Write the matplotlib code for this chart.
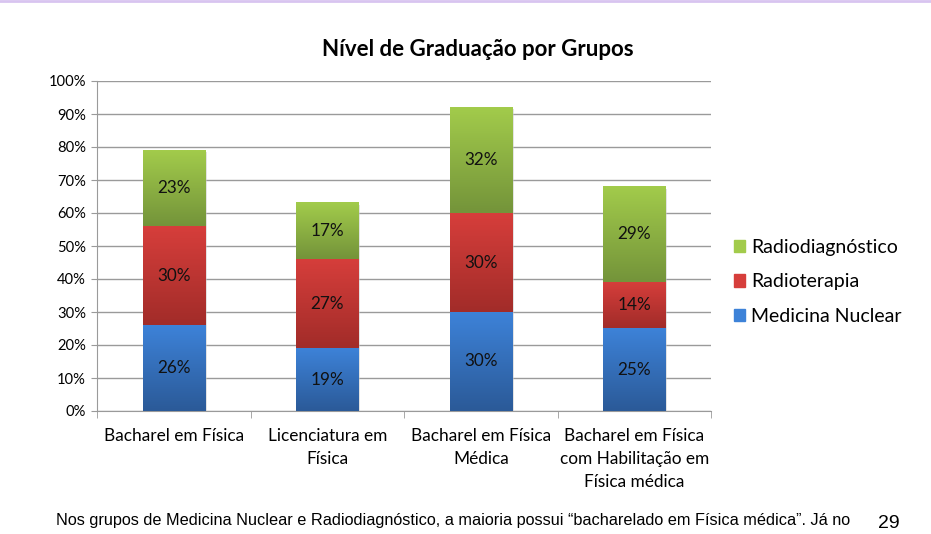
import matplotlib
matplotlib.use("Agg")
import matplotlib.pyplot as plt
import numpy as np
from matplotlib.colors import LinearSegmentedColormap

categories = ["Bacharel em Física", "Licenciatura em\nFísica", "Bacharel em Física\nMédica",
              "Bacharel em Física\ncom Habilitação em\nFísica médica"]
medicina_nuclear = [26, 19, 30, 25]
radioterapia = [30, 27, 30, 14]
radiodiagnostico = [23, 17, 32, 29]
series_names = ["Medicina Nuclear", "Radioterapia", "Radiodiagnóstico"]
y_ticks = [0, 10, 20, 30, 40, 50, 60, 70, 80, 90, 100]

FONT = ["Lato", "DejaVu Sans"]
plt.rcParams['font.family'] = FONT

grads = {
    "Medicina Nuclear": ("#3d82d8", "#2b5a98"),
    "Radioterapia": ("#d63e3b", "#a22c29"),
    "Radiodiagnóstico": ("#a2cb4b", "#74943a"),
}

fig = plt.figure(figsize=(9.31, 5.34), dpi=100)
ax = fig.add_axes([97/931, 1-411/534, (711-97)/931, (411-81)/534])

x = np.arange(len(categories))
width = 0.405
bottom = np.zeros(len(categories))
data = [medicina_nuclear, radioterapia, radiodiagnostico]
ax.set_xlim(-0.5, len(categories) - 0.5)
ax.set_ylim(0, 100)

handles = []
for name, vals in zip(series_names, data):
    top, bot = grads[name]
    bars = ax.bar(x, vals, width, bottom=bottom, color=top, zorder=3, linewidth=0)
    cmap = LinearSegmentedColormap.from_list(name, [bot, top])
    grad = np.linspace(0, 1, 64).reshape(-1, 1)
    for b, v in zip(bars, vals):
        bx, by, bw, bh = b.get_x(), b.get_y(), b.get_width(), b.get_height()
        ax.add_patch(plt.Rectangle((bx + 0.012, by - 0.6), bw, bh, color="#c8c8c8",
                                   alpha=0.5, zorder=2, linewidth=0))
        ax.imshow(grad, extent=(bx, bx + bw, by, by + bh), origin="lower", cmap=cmap,
                  aspect="auto", zorder=3.5)
        ax.text(bx + bw / 2, by + bh / 2, f"{v}%", ha="center", va="center",
                fontsize=12.3, color="#111111", zorder=5)
    handles.append(plt.Rectangle((0, 0), 1, 1, color=top))
    bottom = bottom + np.array(vals)

ax.set_xlim(-0.5, len(categories) - 0.5)
ax.set_ylim(0, 100)

ax.set_yticks(y_ticks)
ax.set_yticklabels([f"{t}%" for t in y_ticks], fontsize=10.6)
ax.yaxis.grid(True, color="#9a9a9a", linewidth=1, zorder=0)
ax.set_axisbelow(True)
ax.tick_params(axis="y", length=4, color="#9a9a9a", pad=4)

ax.set_xticks(x)
ax.set_xticklabels(categories, fontsize=12.4, linespacing=1.55, va="top")
ax.tick_params(axis="x", length=0, pad=12)
ax.set_xticks(np.arange(-0.5, len(categories)), minor=True)
ax.tick_params(axis="x", which="minor", length=5, color="#9a9a9a")

for s in ["top", "right"]:
    ax.spines[s].set_visible(False)
ax.spines["left"].set_color("#9a9a9a")
ax.spines["bottom"].set_color("#9a9a9a")

fig.text(478/931, 1-50/534, "Nível de Graduação por Grupos", ha="center", va="center",
         fontsize=16, fontweight="bold")

leg = fig.legend(handles[::-1], series_names[::-1], loc="center left",
                 bbox_to_anchor=(716/931, 1-282/534), frameon=False, fontsize=14,
                 handlelength=0.6, handleheight=0.6, handletextpad=0.3, labelspacing=0.9)

fig.add_artist(plt.Line2D([0, 1], [1 - 1/534, 1 - 1/534], color="#d8c4f0", linewidth=2,
                          transform=fig.transFigure))

fig.text(56/931, 1-521/534,
         "Nos grupos de Medicina Nuclear e Radiodiagnóstico, a maioria possui “bacharelado em Física médica”. Já no",
         ha="left", va="center", fontsize=11.7,
         family=["Liberation Sans Narrow", "Liberation Sans", "DejaVu Sans"])
fig.text(889/931, 1-524/534, "29", ha="center", va="center", fontsize=14,
         family=["Liberation Sans", "DejaVu Sans"])

fig.savefig("out.png", dpi=100)
